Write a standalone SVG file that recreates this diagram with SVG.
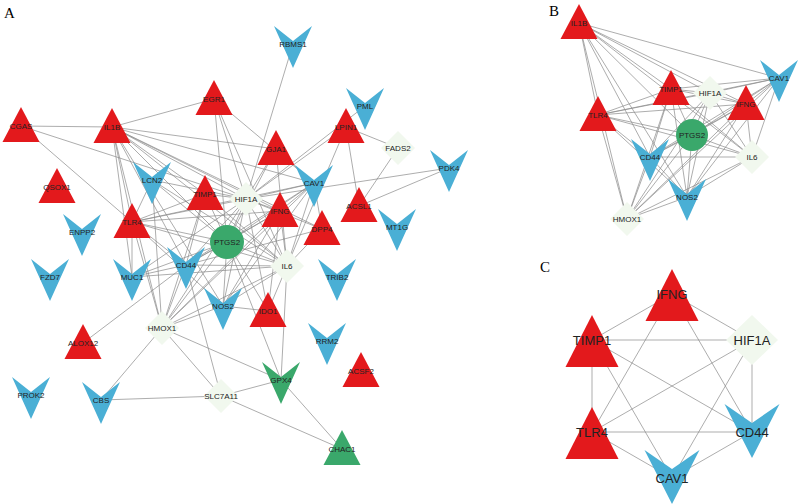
<svg xmlns="http://www.w3.org/2000/svg" xmlns:xlink="http://www.w3.org/1999/xlink" width="799" height="504" viewBox="0 0 799 504">
<style>
.e line{stroke:#8a8a8a;stroke-width:0.7}
.r{fill:#e3191c}.b{fill:#4aafd5}.g{fill:#3aa86b}.d{fill:#f1f8ee}
text{font-family:"Liberation Sans",Arial,sans-serif;font-size:8px;fill:#222;text-anchor:middle;dominant-baseline:central}
.big{font-size:13px}
.pl{font-family:"Liberation Serif","Times New Roman",serif;font-size:15px;fill:#000;text-anchor:start;dominant-baseline:alphabetic}
</style>
<defs>
<polygon id="tri" points="0,-19 -18.5,16 18.5,16"/>
<polygon id="vee" points="-19,-18 0,-3 19,-18 0,24"/>
<polygon id="dia" points="0,-17 17,0 0,17 -17,0"/>
<polygon id="triC" points="0,-25 -26.5,27 26.5,27"/>
<polygon id="veeC" points="-27.5,-28 0,-9 27.5,-28 0,26"/>
<polygon id="diaC" points="0,-25 26,0 0,25 -26,0"/>
</defs>
<rect width="799" height="504" fill="#fff"/>
<text class="pl" x="4" y="18">A</text>
<text class="pl" x="549" y="16">B</text>
<text class="pl" x="540" y="272">C</text>
<g id="connectors" class="e">
<line x1="293" y1="44" x2="246" y2="199"/><line x1="214" y1="99" x2="112" y2="127"/><line x1="214" y1="99" x2="246" y2="199"/><line x1="214" y1="99" x2="227" y2="242"/><line x1="214" y1="99" x2="314" y2="183"/><line x1="214" y1="99" x2="287" y2="266"/>
<line x1="21" y1="126" x2="112" y2="127"/><line x1="21" y1="126" x2="132" y2="222"/><line x1="21" y1="126" x2="246" y2="199"/>
<line x1="112" y1="127" x2="276" y2="149"/><line x1="112" y1="127" x2="314" y2="183"/><line x1="112" y1="127" x2="246" y2="199"/><line x1="112" y1="127" x2="205" y2="194"/><line x1="112" y1="127" x2="280" y2="211"/><line x1="112" y1="127" x2="287" y2="266"/><line x1="112" y1="127" x2="227" y2="242"/><line x1="112" y1="127" x2="186" y2="265"/><line x1="112" y1="127" x2="132" y2="222"/><line x1="112" y1="127" x2="132" y2="277"/><line x1="112" y1="127" x2="162" y2="328"/><line x1="112" y1="127" x2="223" y2="306"/><line x1="112" y1="127" x2="322" y2="229"/>
<line x1="365" y1="106" x2="246" y2="199"/><line x1="346" y1="127" x2="398" y2="148"/><line x1="346" y1="127" x2="359" y2="206"/><line x1="346" y1="127" x2="246" y2="199"/><line x1="346" y1="127" x2="287" y2="266"/><line x1="398" y1="148" x2="359" y2="206"/><line x1="449" y1="168" x2="246" y2="199"/><line x1="449" y1="168" x2="359" y2="206"/>
<line x1="276" y1="149" x2="246" y2="199"/><line x1="276" y1="149" x2="314" y2="183"/><line x1="276" y1="149" x2="287" y2="266"/><line x1="276" y1="149" x2="227" y2="242"/>
<line x1="152" y1="180" x2="246" y2="199"/><line x1="152" y1="180" x2="132" y2="222"/><line x1="152" y1="180" x2="227" y2="242"/><line x1="152" y1="180" x2="287" y2="266"/><line x1="152" y1="180" x2="162" y2="328"/>
<line x1="314" y1="183" x2="246" y2="199"/><line x1="314" y1="183" x2="280" y2="211"/><line x1="314" y1="183" x2="227" y2="242"/><line x1="314" y1="183" x2="287" y2="266"/><line x1="314" y1="183" x2="132" y2="222"/><line x1="314" y1="183" x2="186" y2="265"/><line x1="314" y1="183" x2="322" y2="229"/><line x1="314" y1="183" x2="223" y2="306"/><line x1="314" y1="183" x2="162" y2="328"/>
<line x1="246" y1="199" x2="205" y2="194"/><line x1="246" y1="199" x2="280" y2="211"/><line x1="246" y1="199" x2="227" y2="242"/><line x1="246" y1="199" x2="287" y2="266"/><line x1="246" y1="199" x2="132" y2="222"/><line x1="246" y1="199" x2="186" y2="265"/><line x1="246" y1="199" x2="223" y2="306"/><line x1="246" y1="199" x2="162" y2="328"/><line x1="246" y1="199" x2="268" y2="311"/><line x1="246" y1="199" x2="322" y2="229"/><line x1="246" y1="199" x2="132" y2="277"/>
<line x1="205" y1="194" x2="227" y2="242"/><line x1="205" y1="194" x2="132" y2="222"/><line x1="205" y1="194" x2="186" y2="265"/><line x1="205" y1="194" x2="287" y2="266"/><line x1="205" y1="194" x2="162" y2="328"/>
<line x1="280" y1="211" x2="227" y2="242"/><line x1="280" y1="211" x2="287" y2="266"/><line x1="280" y1="211" x2="268" y2="311"/><line x1="280" y1="211" x2="186" y2="265"/><line x1="280" y1="211" x2="223" y2="306"/><line x1="280" y1="211" x2="162" y2="328"/><line x1="280" y1="211" x2="132" y2="222"/>
<line x1="132" y1="222" x2="227" y2="242"/><line x1="132" y1="222" x2="287" y2="266"/><line x1="132" y1="222" x2="186" y2="265"/><line x1="132" y1="222" x2="162" y2="328"/><line x1="132" y1="222" x2="132" y2="277"/><line x1="132" y1="222" x2="223" y2="306"/>
<line x1="227" y1="242" x2="287" y2="266"/><line x1="227" y1="242" x2="186" y2="265"/><line x1="227" y1="242" x2="223" y2="306"/><line x1="227" y1="242" x2="162" y2="328"/><line x1="227" y1="242" x2="268" y2="311"/><line x1="227" y1="242" x2="132" y2="277"/><line x1="227" y1="242" x2="281" y2="380"/>
<line x1="322" y1="229" x2="287" y2="266"/><line x1="322" y1="229" x2="186" y2="265"/>
<line x1="186" y1="265" x2="287" y2="266"/><line x1="186" y1="265" x2="132" y2="277"/><line x1="186" y1="265" x2="162" y2="328"/><line x1="83" y1="343" x2="186" y2="265"/>
<line x1="287" y1="266" x2="162" y2="328"/><line x1="287" y1="266" x2="223" y2="306"/><line x1="287" y1="266" x2="268" y2="311"/><line x1="287" y1="266" x2="281" y2="380"/><line x1="287" y1="266" x2="132" y2="277"/>
<line x1="223" y1="306" x2="162" y2="328"/><line x1="223" y1="306" x2="268" y2="311"/>
<line x1="162" y1="328" x2="101" y2="400"/><line x1="162" y1="328" x2="221" y2="396"/><line x1="162" y1="328" x2="281" y2="380"/>
<line x1="221" y1="396" x2="101" y2="400"/><line x1="221" y1="396" x2="281" y2="380"/><line x1="221" y1="396" x2="342" y2="449"/><line x1="221" y1="396" x2="186" y2="265"/><line x1="281" y1="380" x2="342" y2="449"/>
<!-- B -->
<line x1="579" y1="23" x2="779" y2="78"/><line x1="579" y1="23" x2="671" y2="89"/><line x1="579" y1="23" x2="710" y2="93"/><line x1="579" y1="23" x2="746" y2="104"/><line x1="579" y1="23" x2="598" y2="115"/><line x1="579" y1="23" x2="692" y2="135"/><line x1="579" y1="23" x2="650" y2="157"/><line x1="579" y1="23" x2="752" y2="157"/><line x1="579" y1="23" x2="687" y2="197"/><line x1="579" y1="23" x2="627" y2="219"/>
<line x1="779" y1="78" x2="671" y2="89"/><line x1="779" y1="78" x2="710" y2="93"/><line x1="779" y1="78" x2="746" y2="104"/><line x1="779" y1="78" x2="598" y2="115"/><line x1="779" y1="78" x2="692" y2="135"/><line x1="779" y1="78" x2="650" y2="157"/><line x1="779" y1="78" x2="752" y2="157"/><line x1="779" y1="78" x2="687" y2="197"/><line x1="779" y1="78" x2="627" y2="219"/>
<line x1="671" y1="89" x2="710" y2="93"/><line x1="671" y1="89" x2="746" y2="104"/><line x1="671" y1="89" x2="598" y2="115"/><line x1="671" y1="89" x2="692" y2="135"/><line x1="671" y1="89" x2="650" y2="157"/><line x1="671" y1="89" x2="752" y2="157"/><line x1="671" y1="89" x2="687" y2="197"/><line x1="671" y1="89" x2="627" y2="219"/>
<line x1="710" y1="93" x2="746" y2="104"/><line x1="710" y1="93" x2="598" y2="115"/><line x1="710" y1="93" x2="692" y2="135"/><line x1="710" y1="93" x2="650" y2="157"/><line x1="710" y1="93" x2="752" y2="157"/><line x1="710" y1="93" x2="687" y2="197"/><line x1="710" y1="93" x2="627" y2="219"/>
<line x1="746" y1="104" x2="598" y2="115"/><line x1="746" y1="104" x2="692" y2="135"/><line x1="746" y1="104" x2="650" y2="157"/><line x1="746" y1="104" x2="752" y2="157"/><line x1="746" y1="104" x2="687" y2="197"/><line x1="746" y1="104" x2="627" y2="219"/>
<line x1="598" y1="115" x2="692" y2="135"/><line x1="598" y1="115" x2="650" y2="157"/><line x1="598" y1="115" x2="752" y2="157"/><line x1="598" y1="115" x2="687" y2="197"/><line x1="598" y1="115" x2="627" y2="219"/>
<line x1="692" y1="135" x2="650" y2="157"/><line x1="692" y1="135" x2="752" y2="157"/><line x1="692" y1="135" x2="687" y2="197"/><line x1="692" y1="135" x2="627" y2="219"/>
<line x1="650" y1="157" x2="752" y2="157"/><line x1="650" y1="157" x2="687" y2="197"/><line x1="650" y1="157" x2="627" y2="219"/>
<line x1="752" y1="157" x2="687" y2="197"/><line x1="752" y1="157" x2="627" y2="219"/><line x1="687" y1="197" x2="627" y2="219"/>
<!-- C -->
<line x1="672" y1="294" x2="592" y2="340"/><line x1="672" y1="294" x2="752" y2="340"/><line x1="672" y1="294" x2="592" y2="432"/><line x1="672" y1="294" x2="752" y2="432"/>
<line x1="592" y1="340" x2="752" y2="340"/><line x1="592" y1="340" x2="592" y2="432"/><line x1="592" y1="340" x2="672" y2="478"/><line x1="592" y1="340" x2="752" y2="432"/>
<line x1="752" y1="340" x2="592" y2="432"/><line x1="752" y1="340" x2="672" y2="478"/><line x1="752" y1="340" x2="752" y2="432"/>
<line x1="592" y1="432" x2="752" y2="432"/><line x1="592" y1="432" x2="672" y2="478"/><line x1="672" y1="478" x2="752" y2="432"/>
</g>
<g id="A-RBMS1" transform="translate(293,44)"><use href="#vee" class="b"/><text>RBMS1</text></g>
<g id="A-EGR1" transform="translate(214,99)"><use href="#tri" class="r"/><text>EGR1</text></g>
<g id="A-CGAS" transform="translate(21,126)"><use href="#tri" class="r"/><text>CGAS</text></g>
<g id="A-IL1B" transform="translate(112,127)"><use href="#tri" class="r"/><text>IL1B</text></g>
<g id="A-PML" transform="translate(365,106)"><use href="#vee" class="b"/><text>PML</text></g>
<g id="A-LPIN1" transform="translate(346,127)"><use href="#tri" class="r"/><text>LPIN1</text></g>
<g id="A-GJA1" transform="translate(276,149)"><use href="#tri" class="r"/><text>GJA1</text></g>
<g id="A-FADS2" transform="translate(398,148)"><use href="#dia" class="d"/><text>FADS2</text></g>
<g id="A-PDK4" transform="translate(449,168)"><use href="#vee" class="b"/><text>PDK4</text></g>
<g id="A-LCN2" transform="translate(152,180)"><use href="#vee" class="b"/><text>LCN2</text></g>
<g id="A-CAV1" transform="translate(314,183)"><use href="#vee" class="b"/><text>CAV1</text></g>
<g id="A-QSOX1" transform="translate(57,187)"><use href="#tri" class="r"/><text>QSOX1</text></g>
<g id="A-TIMP1" transform="translate(205,194)"><use href="#tri" class="r"/><text>TIMP1</text></g>
<g id="A-HIF1A" transform="translate(246,199)"><use href="#dia" class="d"/><text>HIF1A</text></g>
<g id="A-ACSL1" transform="translate(359,206)"><use href="#tri" class="r"/><text>ACSL1</text></g>
<g id="A-IFNG" transform="translate(280,211)"><use href="#tri" class="r"/><text>IFNG</text></g>
<g id="A-ENPP2" transform="translate(82,232)"><use href="#vee" class="b"/><text>ENPP2</text></g>
<g id="A-TLR4" transform="translate(132,222)"><use href="#tri" class="r"/><text>TLR4</text></g>
<g id="A-DPP4" transform="translate(322,229)"><use href="#tri" class="r"/><text>DPP4</text></g>
<g id="A-MT1G" transform="translate(397,227)"><use href="#vee" class="b"/><text>MT1G</text></g>
<g id="A-PTGS2" transform="translate(227,242)"><circle r="17" class="g"/><text>PTGS2</text></g>
<g id="A-CD44" transform="translate(186,265)"><use href="#vee" class="b"/><text>CD44</text></g>
<g id="A-IL6" transform="translate(287,266)"><use href="#dia" class="d"/><text>IL6</text></g>
<g id="A-FZD7" transform="translate(50,277)"><use href="#vee" class="b"/><text>FZD7</text></g>
<g id="A-MUC1" transform="translate(132,277)"><use href="#vee" class="b"/><text>MUC1</text></g>
<g id="A-TRIB2" transform="translate(337,277)"><use href="#vee" class="b"/><text>TRIB2</text></g>
<g id="A-NOS2" transform="translate(223,306)"><use href="#vee" class="b"/><text>NOS2</text></g>
<g id="A-IDO1" transform="translate(268,311)"><use href="#tri" class="r"/><text>IDO1</text></g>
<g id="A-HMOX1" transform="translate(162,328)"><use href="#dia" class="d"/><text>HMOX1</text></g>
<g id="A-ALOX12" transform="translate(83,343)"><use href="#tri" class="r"/><text>ALOX12</text></g>
<g id="A-RRM2" transform="translate(327,341)"><use href="#vee" class="b"/><text>RRM2</text></g>
<g id="A-ACSF2" transform="translate(361,371)"><use href="#tri" class="r"/><text>ACSF2</text></g>
<g id="A-GPX4" transform="translate(281,380)"><use href="#vee" class="g"/><text>GPX4</text></g>
<g id="A-PROK2" transform="translate(31,395)"><use href="#vee" class="b"/><text>PROK2</text></g>
<g id="A-CBS" transform="translate(101,400)"><use href="#vee" class="b"/><text>CBS</text></g>
<g id="A-SLC7A11" transform="translate(221,396)"><use href="#dia" class="d"/><text>SLC7A11</text></g>
<g id="A-CHAC1" transform="translate(342,449)"><use href="#tri" class="g"/><text>CHAC1</text></g>
<g id="B-IL1B" transform="translate(579,23)"><use href="#tri" class="r"/><text>IL1B</text></g>
<g id="B-CAV1" transform="translate(779,78)"><use href="#vee" class="b"/><text>CAV1</text></g>
<g id="B-TIMP1" transform="translate(671,89)"><use href="#tri" class="r"/><text>TIMP1</text></g>
<g id="B-HIF1A" transform="translate(710,93)"><use href="#dia" class="d"/><text>HIF1A</text></g>
<g id="B-IFNG" transform="translate(746,104)"><use href="#tri" class="r"/><text>IFNG</text></g>
<g id="B-TLR4" transform="translate(598,115)"><use href="#tri" class="r"/><text>TLR4</text></g>
<g id="B-PTGS2" transform="translate(692,135)"><circle r="16" class="g"/><text>PTGS2</text></g>
<g id="B-CD44" transform="translate(650,157)"><use href="#vee" class="b"/><text>CD44</text></g>
<g id="B-IL6" transform="translate(752,157)"><use href="#dia" class="d"/><text>IL6</text></g>
<g id="B-NOS2" transform="translate(687,197)"><use href="#vee" class="b"/><text>NOS2</text></g>
<g id="B-HMOX1" transform="translate(627,219)"><use href="#dia" class="d"/><text>HMOX1</text></g>
<g id="C-IFNG" transform="translate(672,294)"><use href="#triC" class="r"/><text class="big">IFNG</text></g>
<g id="C-TIMP1" transform="translate(592,340)"><use href="#triC" class="r"/><text class="big">TIMP1</text></g>
<g id="C-TLR4" transform="translate(592,432)"><use href="#triC" class="r"/><text class="big">TLR4</text></g>
<g id="C-HIF1A" transform="translate(752,340)"><use href="#diaC" class="d"/><text class="big">HIF1A</text></g>
<g id="C-CD44" transform="translate(752,432)"><use href="#veeC" class="b"/><text class="big">CD44</text></g>
<g id="C-CAV1" transform="translate(672,478)"><use href="#veeC" class="b"/><text class="big">CAV1</text></g>
</svg>
